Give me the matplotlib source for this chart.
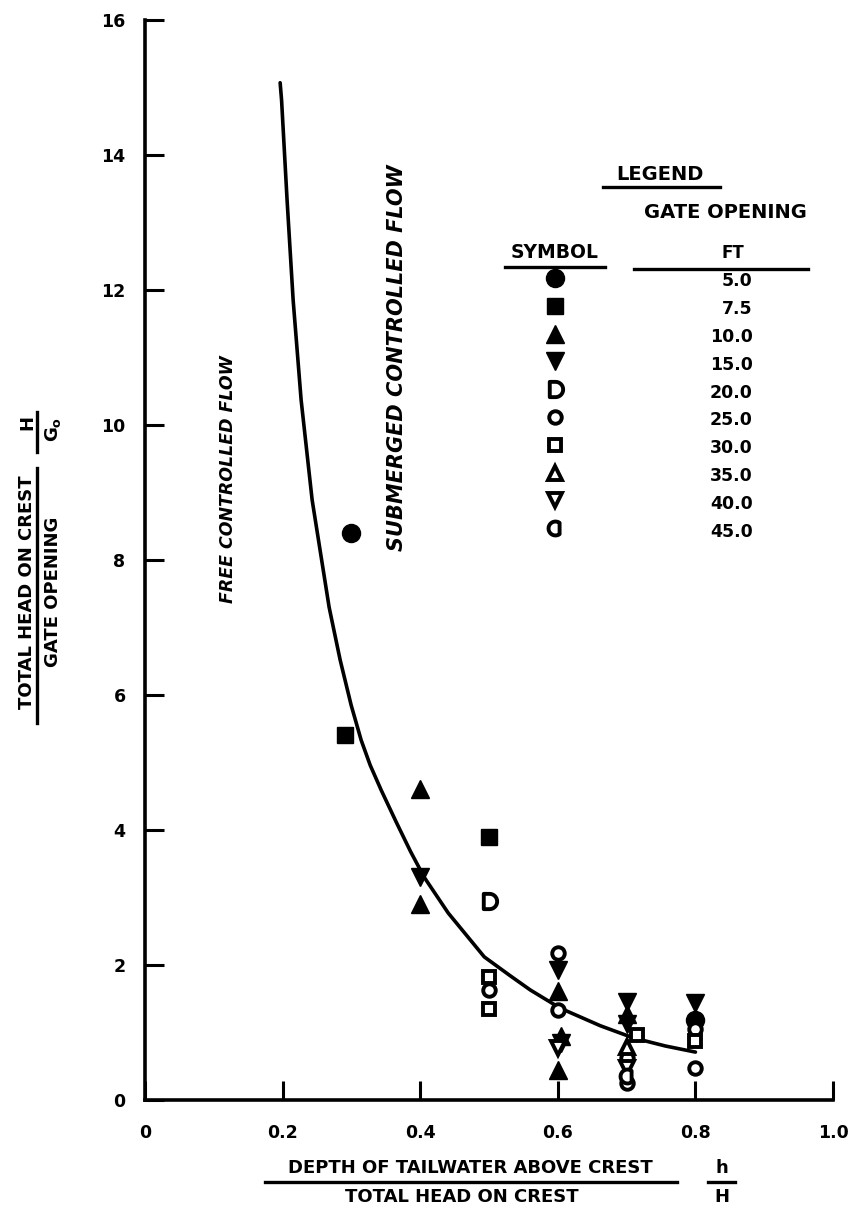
import numpy as np
import matplotlib.pyplot as plt
from matplotlib.path import Path

plt.rcParams['font.family'] = ['DejaVu Sans']
plt.rcParams['font.weight'] = 'bold'

# fitted curve
curve_x = [0.1964, 0.1985, 0.2065, 0.2153, 0.2269, 0.2429, 0.2676, 0.2836, 0.2996,
           0.3142, 0.3273, 0.3433, 0.3650, 0.3860, 0.4058, 0.4407, 0.4931, 0.5309,
           0.5600, 0.6036, 0.6618, 0.7098, 0.7564, 0.8000]
curve_y = [15.07, 14.81, 13.33, 11.85, 10.37, 8.89, 7.30, 6.52, 5.85,
           5.33, 4.96, 4.59, 4.12, 3.68, 3.30, 2.77, 2.12, 1.84,
           1.63, 1.36, 1.10, 0.92, 0.80, 0.71]

# observed points, one pair of lists per gate opening (ft)
go_5_0_x = [0.30, 0.80]
go_5_0_y = [8.4, 1.18]
go_7_5_x = [0.29, 0.50]
go_7_5_y = [5.4, 3.9]
go_10_0_x = [0.40, 0.40, 0.60, 0.605, 0.60, 0.70]
go_10_0_y = [4.6, 2.9, 1.62, 0.95, 0.45, 1.28]
go_15_0_x = [0.40, 0.60, 0.605, 0.70, 0.70, 0.80]
go_15_0_y = [3.3, 1.93, 0.85, 1.45, 1.12, 1.43]
go_20_0_x = [0.50]
go_20_0_y = [2.95]
go_25_0_x = [0.50, 0.60, 0.60, 0.70, 0.70, 0.80, 0.80]
go_25_0_y = [1.63, 2.18, 1.33, 0.62, 0.25, 1.05, 0.47]
go_30_0_x = [0.50, 0.50, 0.715, 0.80]
go_30_0_y = [1.82, 1.35, 0.97, 0.88]
go_35_0_x = [0.70]
go_35_0_y = [0.78]
go_40_0_x = [0.60, 0.70]
go_40_0_y = [0.77, 0.48]
go_45_0_x = [0.70]
go_45_0_y = [0.35]

gate_labels = ["5.0", "7.5", "10.0", "15.0", "20.0", "25.0", "30.0", "35.0", "40.0", "45.0"]
xticks = [0, 0.2, 0.4, 0.6, 0.8, 1.0]
xtick_labels = ["0", "0.2", "0.4", "0.6", "0.8", "1.0"]
yticks = [0, 2, 4, 6, 8, 10, 12, 14, 16]

# special symbols: "D" shape and a circle with a flat right side
t = np.linspace(-np.pi / 2, np.pi / 2, 30)
d_verts = [(-0.75, -1)] + list(zip(np.cos(t), np.sin(t))) + [(-0.75, 1), (-0.75, -1)]
d_marker = Path(d_verts, closed=True)
t = np.linspace(0.3 * np.pi, 1.7 * np.pi, 40)
c_verts = list(zip(np.cos(t), np.sin(t))) + [(np.cos(0.3 * np.pi), np.sin(0.3 * np.pi))]
c_marker = Path(c_verts, closed=True)

series = [
    (go_5_0_x, go_5_0_y, dict(marker="o", ms=13, mfc="k", mec="k")),
    (go_7_5_x, go_7_5_y, dict(marker="s", ms=12, mfc="k", mec="k")),
    (go_10_0_x, go_10_0_y, dict(marker="^", ms=13, mfc="k", mec="k")),
    (go_15_0_x, go_15_0_y, dict(marker="v", ms=13, mfc="k", mec="k")),
    (go_20_0_x, go_20_0_y, dict(marker=d_marker, ms=11, mfc="w", mec="k", mew=2.8)),
    (go_25_0_x, go_25_0_y, dict(marker="o", ms=9, mfc="w", mec="k", mew=2.8)),
    (go_30_0_x, go_30_0_y, dict(marker="s", ms=8.5, mfc="w", mec="k", mew=2.8)),
    (go_35_0_x, go_35_0_y, dict(marker="^", ms=10, mfc="w", mec="k", mew=2.8)),
    (go_40_0_x, go_40_0_y, dict(marker="v", ms=10, mfc="w", mec="k", mew=2.8)),
    (go_45_0_x, go_45_0_y, dict(marker=c_marker, ms=10, mfc="w", mec="k", mew=2.8)),
]

fig = plt.figure(figsize=(8.53, 12.10), dpi=100)
ax = fig.add_axes([0.170, 0.0909, 0.8066, 0.8926])

ax.plot(curve_x, curve_y, color="k", lw=2.6, solid_capstyle="round", solid_joinstyle="round")
for xs, ys, st in series:
    ax.plot(xs, ys, ls="none", clip_on=False, **st)

ax.set_xlim(0, 1.0)
ax.set_ylim(0, 16)
ax.set_xticks(xticks)
ax.set_xticklabels(xtick_labels)
ax.set_yticks(yticks)
ax.set_yticklabels([str(v) for v in yticks])
for s in ["top", "right"]:
    ax.spines[s].set_visible(False)
for s in ["left", "bottom"]:
    ax.spines[s].set_linewidth(2.6)
ax.tick_params(direction="in", length=13.5, width=2.2, labelsize=12.5)
ax.tick_params(axis="x", pad=17)
ax.tick_params(axis="y", pad=14)

# region labels
ax.text(0.121, 9.2, "FREE CONTROLLED FLOW", rotation=90, style="oblique", weight="bold",
        fontsize=12.5, ha="center", va="center")
ax.text(0.366, 11.0, "SUBMERGED CONTROLLED FLOW", rotation=90, style="oblique", weight="bold",
        fontsize=15, ha="center", va="center")

# hand-made legend block
ax.text(0.748, 0.8565, "LEGEND", transform=ax.transAxes, fontsize=14, ha="center", va="center")
ax.plot([0.666, 0.836], [0.8454, 0.8454], transform=ax.transAxes, color="k", lw=2.4)
ax.text(0.8436, 0.8213, "GATE OPENING", transform=ax.transAxes, fontsize=14, ha="center", va="center")
ax.text(0.595, 0.785, "SYMBOL", transform=ax.transAxes, fontsize=13.5, ha="center", va="center")
ax.plot([0.5236, 0.669], [0.7713, 0.7713], transform=ax.transAxes, color="k", lw=2.4)
ax.text(0.854, 0.784, "FT", transform=ax.transAxes, fontsize=12, ha="center", va="center")
ax.plot([0.71, 0.964], [0.7694, 0.7694], transform=ax.transAxes, color="k", lw=2.4)
row0, step = 0.761, 0.02574
for i, ((xs, ys, st), lab) in enumerate(zip(series, gate_labels)):
    ax.plot([0.5964], [row0 - i * step], transform=ax.transAxes, ls="none", clip_on=False, **st)
    ax.text(0.883, row0 - i * step - 0.003, lab, transform=ax.transAxes,
            fontsize=12.5, ha="right", va="center")

# y axis label as a fraction
fig.text(0.0317, 0.5107, "TOTAL HEAD ON CREST", rotation=90, fontsize=13, ha="center", va="center")
fig.add_artist(plt.Line2D([0.0434, 0.0434], [0.4025, 0.613], color="k", lw=2.4))
fig.text(0.0621, 0.5107, "GATE OPENING", rotation=90, fontsize=13, ha="center", va="center")
fig.text(0.0317, 0.651, "H", rotation=90, fontsize=13, ha="center", va="center")
fig.add_artist(plt.Line2D([0.0434, 0.0434], [0.6264, 0.6595], color="k", lw=2.4))
fig.text(0.0621, 0.645, "G$_{\\mathregular{o}}$", rotation=90, fontsize=13, ha="center", va="center")

# x axis label as a fraction
fig.text(0.551, 0.0347, "DEPTH OF TAILWATER ABOVE CREST", fontsize=13, ha="center", va="center")
fig.add_artist(plt.Line2D([0.3107, 0.7937], [0.0231, 0.0231], color="k", lw=2.4))
fig.text(0.5416, 0.0107, "TOTAL HEAD ON CREST", fontsize=13, ha="center", va="center")
fig.text(0.8464, 0.0347, "h", fontsize=13, ha="center", va="center")
fig.add_artist(plt.Line2D([0.83, 0.8617], [0.0231, 0.0231], color="k", lw=2.4))
fig.text(0.8464, 0.0107, "H", fontsize=13, ha="center", va="center")

fig.savefig("out.png", dpi=100)
